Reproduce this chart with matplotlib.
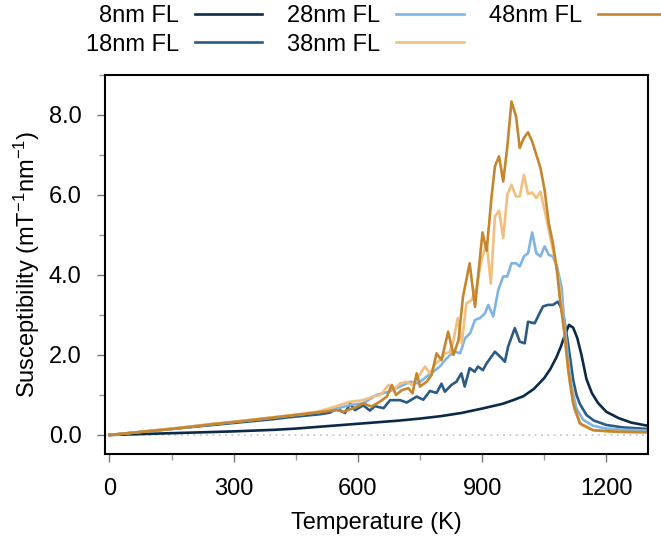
import matplotlib
matplotlib.use("Agg")
import matplotlib.pyplot as plt
from matplotlib.ticker import FixedLocator

plt.rcParams['font.family'] = ['Liberation Sans', 'DejaVu Sans']
plt.rcParams['mathtext.default'] = 'regular'

labels = ["8nm FL", "18nm FL", "28nm FL", "38nm FL", "48nm FL"]
colors = ["#0b2a47", "#2b5a85", "#7fb4e3", "#f2c07e", "#c4862e"]

T8 = [0, 100, 200, 300, 400, 450, 500, 550, 600, 650, 700, 750, 800, 850, 900, 925, 950, 975,
      1000, 1025, 1050, 1065, 1080, 1090, 1100, 1110, 1120, 1130, 1140, 1152, 1165, 1180, 1200,
      1230, 1260, 1300]
S8 = [0, 0.03, 0.06, 0.09, 0.13, 0.16, 0.2, 0.24, 0.28, 0.32, 0.36, 0.41, 0.47, 0.55, 0.66, 0.72,
      0.78, 0.87, 0.97, 1.15, 1.42, 1.65, 1.95, 2.2, 2.5, 2.75, 2.68, 2.42, 2.0, 1.4, 1.05, 0.8,
      0.58, 0.42, 0.31, 0.23]

T18 = [0, 50, 100, 150, 200, 250, 300, 350, 400, 430, 460, 490, 510, 533, 549, 569, 581, 593,
       613, 629, 641, 662, 678, 702, 718, 742, 758, 774, 790, 802, 810, 826, 838, 850, 858, 870,
       882, 890, 902, 911, 931, 947, 955, 963, 979, 991, 1003, 1011, 1027, 1035, 1047, 1059,
       1071, 1083, 1090, 1098, 1106, 1113, 1120, 1128, 1136, 1152, 1170, 1200, 1240, 1300]
S18 = [0, 0.05, 0.1, 0.15, 0.2, 0.25, 0.3, 0.35, 0.4, 0.44, 0.47, 0.5, 0.52, 0.56, 0.66, 0.55,
       0.78, 0.62, 0.74, 0.61, 0.72, 0.67, 0.87, 0.87, 0.81, 0.96, 0.88, 1.1, 1.05, 1.28, 1.08,
       1.25, 1.33, 1.54, 1.21, 1.67, 1.58, 1.71, 1.62, 1.79, 2.08, 1.92, 1.83, 2.21, 2.67, 2.33,
       2.29, 2.83, 2.79, 2.96, 3.21, 3.25, 3.25, 3.33, 3.2, 2.9, 2.4, 1.9, 1.38, 1.0, 0.78, 0.5,
       0.36, 0.25, 0.19, 0.15]

T28 = [0, 50, 100, 150, 200, 250, 300, 350, 400, 450, 500, 533, 557, 581, 613, 645, 674, 702,
       726, 746, 766, 782, 798, 811, 823, 835, 847, 859, 871, 883, 895, 907, 915, 927, 939, 951,
       961, 971, 982, 991, 1001, 1011, 1021, 1031, 1041, 1051, 1061, 1071, 1081, 1092, 1098,
       1108, 1116, 1128, 1144, 1168, 1200, 1240, 1300]
S28 = [0, 0.05, 0.1, 0.16, 0.21, 0.27, 0.33, 0.38, 0.44, 0.5, 0.56, 0.62, 0.68, 0.75, 0.79, 1.0,
       1.08, 1.21, 1.33, 1.29, 1.46, 1.58, 1.71, 1.875, 2.0, 2.08, 2.04, 2.42, 2.54, 2.875, 2.92,
       3.04, 3.25, 2.96, 3.62, 3.96, 3.96, 4.29, 4.29, 4.21, 4.46, 4.54, 5.06, 4.54, 4.46, 4.71,
       4.5, 4.46, 4.2, 3.7, 2.9, 1.875, 1.21, 0.66, 0.38, 0.23, 0.16, 0.13, 0.11]

T38 = [0, 50, 100, 150, 200, 250, 300, 350, 400, 450, 500, 533, 557, 581, 613, 637, 655, 674,
       686, 702, 718, 730, 746, 762, 774, 789, 798, 811, 823, 831, 841, 851, 862, 875, 887, 899,
       911, 921, 931, 941, 951, 961, 971, 982, 991, 1001, 1011, 1021, 1031, 1041, 1051, 1061,
       1071, 1084, 1094, 1104, 1112, 1124, 1140, 1168, 1200, 1250, 1300]
S38 = [0, 0.05, 0.11, 0.16, 0.22, 0.28, 0.33, 0.39, 0.45, 0.51, 0.58, 0.67, 0.75, 0.83, 0.87,
       0.96, 1.0, 1.25, 1.12, 1.29, 1.33, 1.25, 1.46, 1.71, 1.54, 1.79, 1.87, 2.04, 2.08, 2.37,
       2.92, 2.29, 3.29, 3.37, 3.71, 4.4, 4.8, 3.78, 5.46, 5.6, 4.92, 6.0, 6.25, 5.96, 5.96, 6.5,
       6.02, 6.06, 5.92, 6.08, 5.62, 5.12, 4.62, 3.96, 3.0, 2.0, 1.3, 0.6, 0.25, 0.12, 0.09,
       0.07, 0.065]

T48 = [0, 50, 100, 150, 200, 250, 300, 350, 400, 450, 500, 533, 549, 565, 581, 597, 613, 633,
       653, 670, 682, 692, 706, 722, 732, 742, 750, 766, 778, 790, 802, 818, 831, 843, 854, 870,
       883, 901, 911, 923, 931, 941, 951, 961, 971, 982, 991, 1001, 1011, 1021, 1031, 1041, 1051,
       1061, 1071, 1081, 1088, 1100, 1108, 1120, 1136, 1168, 1230, 1300]
S48 = [0, 0.05, 0.1, 0.15, 0.21, 0.27, 0.32, 0.38, 0.44, 0.5, 0.56, 0.6, 0.62, 0.58, 0.64, 0.7,
       0.79, 0.71, 0.83, 0.96, 1.25, 1.0, 1.12, 1.17, 1.04, 1.54, 1.21, 1.33, 1.5, 2.04, 1.87,
       2.58, 2.0, 2.37, 3.46, 4.29, 3.2, 5.06, 4.6, 5.96, 6.71, 6.96, 6.33, 7.21, 8.33, 7.96,
       7.17, 7.42, 7.56, 7.33, 7.0, 6.67, 6.12, 5.29, 4.79, 4.1, 3.4, 2.46, 1.62, 0.79, 0.29,
       0.12, 0.08, 0.07]

series_T = [T8, T18, T28, T38, T48]
series_S = [S8, S18, S28, S38, S48]

xticks = [0, 300, 600, 900, 1200]
xtick_labels = ["0", "300", "600", "900", "1200"]
xminor = [150, 450, 750, 1050]
yticks = [0, 2, 4, 6, 8]
ytick_labels = ["0.0", "2.0", "4.0", "6.0", "8.0"]
yminor = [1, 3, 5, 7, 9]

W, H = 661, 542
fig = plt.figure(figsize=(W / 100, H / 100), dpi=100)
ax = fig.add_axes([105.3 / W, 1 - 454 / H, (647.7 - 105.3) / W, (454 - 74.7) / H])

ax.axhline(0, color="#c8c8c8", lw=1.3, ls=(0, (1, 2.5)), zorder=1)

handles = []
for T, S, c, lab in zip(series_T, series_S, colors, labels):
    ln, = ax.plot(T, S, color=c, lw=1.9, label=lab, zorder=2)
    handles.append(ln)

ax.set_xlim(-10, 1300)
ax.set_ylim(-0.475, 9.0)
ax.xaxis.set_major_locator(FixedLocator(xticks))
ax.set_xticklabels(xtick_labels)
ax.xaxis.set_minor_locator(FixedLocator(xminor))
ax.yaxis.set_major_locator(FixedLocator(yticks))
ax.set_yticklabels(ytick_labels)
ax.yaxis.set_minor_locator(FixedLocator(yminor))

for s in ax.spines.values():
    s.set_linewidth(1.5)
    s.set_color("black")
ax.tick_params(which='major', length=6, width=1.0, color="#777777", labelsize=17, pad=11)
ax.tick_params(which='minor', length=4, width=1.0, color="#999999")

ax.set_xlabel("Temperature (K)", fontsize=17, labelpad=9)
ax.set_ylabel("Susceptibility (mT$^{-1}$nm$^{-1}$)", fontsize=17, labelpad=5)

leg = fig.legend(handles=handles, labels=labels, ncol=3, loc="upper left",
                 bbox_to_anchor=(86 / W, 1 - 5 / H), frameon=False, markerfirst=False,
                 fontsize=17, handlelength=2.85, handletextpad=0.68, columnspacing=1.05,
                 labelspacing=0.28, borderpad=0, borderaxespad=0)

fig.savefig("out.png", dpi=100)
